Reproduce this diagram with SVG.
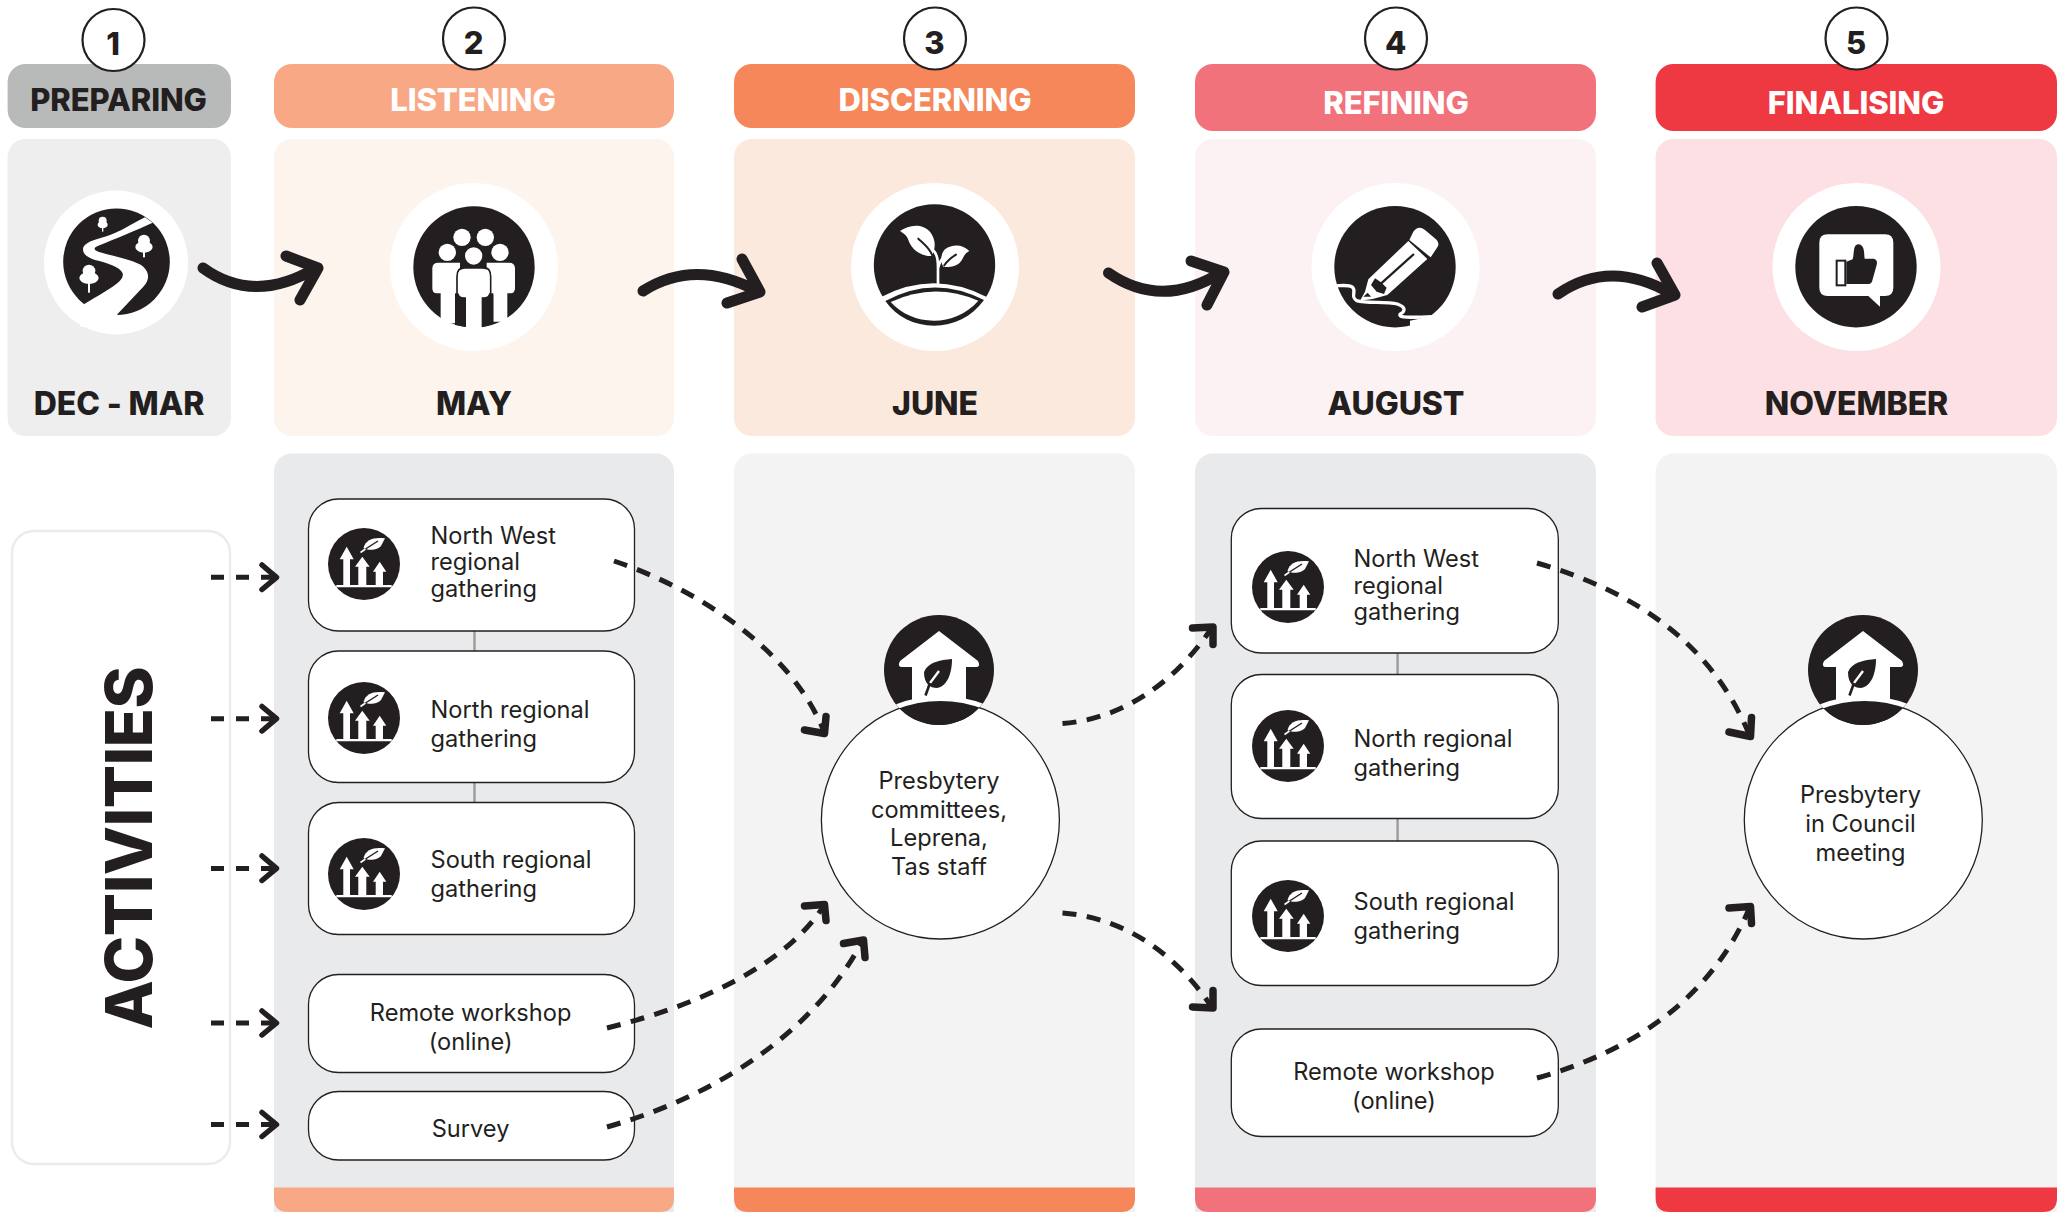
<svg xmlns="http://www.w3.org/2000/svg" width="2065" height="1212" viewBox="0 0 2065 1212">
<style>
text{font-family:"Inter","Liberation Sans",sans-serif;fill:#231f20}
.h{font-size:31px;font-weight:800;text-anchor:middle;letter-spacing:-.1px}
.mo{font-size:32px}
.w{fill:#fff}
.t{font-size:23.6px;font-weight:400}
.m{text-anchor:middle}
.node{fill:#fff;stroke:#231f20;stroke-width:1.3}
.num{fill:#fff;stroke:#231f20;stroke-width:2.2}
.k{fill:#231f20}
.wf{fill:#fff}
.dash{fill:none;stroke:#231f20;stroke-width:5;stroke-dasharray:14 10.500}
.sd{fill:none;stroke:#231f20;stroke-width:5;stroke-dasharray:13 12}
.head{fill:none;stroke:#231f20;stroke-width:7.500;stroke-linecap:round;stroke-linejoin:round}
.sh{fill:none;stroke:#231f20;stroke-width:5.500;stroke-linecap:round;stroke-linejoin:round}
.big{fill:none;stroke:#231f20;stroke-width:11;stroke-linecap:round;stroke-linejoin:round}
.link{stroke:#9a9a9a;stroke-width:2.4}
</style>
<defs>
<clipPath id="hc"><circle r="55"/></clipPath>
<g id="grow">
<circle r="36" class="k"/>
<path class="wf" d="M-17.300-17.300L-24.300-4.700H-20.700V21H-14V-4.700H-10.300ZM-1.700-7.300L-9 2.700H-5.700V21H2.300V2.700H5.700ZM15.700-2.300L9 7.700H11.700V21H19V7.700H22.300Z"/>
<path class="wf" d="M-27.700 21H27.700V23.300H-27.700Z"/>
<path class="wf" d="M21-25.700C10-27 2-25-.5-16C4-13 14-14 17-18Z"/>
<path fill="none" stroke="#fff" stroke-width="1.600" d="M-3.500-11.500L1.500-15"/>
<path fill="none" stroke="#231f20" stroke-width="1.400" d="M1.500-15L14-23"/>
</g>
<g id="house">
<circle r="55" class="k"/>
<path class="wf" d="M0-39L39-9Q42-3 37-3H27V32H-27V-3H-37Q-42-3-39-9Z"/>
<path class="k" d="M13-11C1-10-11-8-15 2C-15 14-9 18-2 18C9 16 13 2 13-11Z"/>
<path fill="none" stroke="#fff" stroke-width="2.400" d="M0 1L-9 13"/>
<path fill="none" stroke="#231f20" stroke-width="2.600" d="M-9 13L-13.500 25.500"/>
<g clip-path="url(#hc)"><path class="k" d="M-60 31H60V60H-60Z"/><circle cx="1.400" cy="150" r="121.500" fill="none" stroke="#fff" stroke-width="5"/></g>
</g>
</defs>

<g id="headers">
<g id="stage-1"><rect x="7.600" y="64" width="223.400" height="64" rx="18" fill="#b8baba"/><circle class="num" cx="113.500" cy="40" r="31"/><text x="113" y="55" class="h">1</text><text x="118.500" y="111" class="h">PREPARING</text>
<rect x="7.600" y="139" width="223.400" height="297" rx="18" fill="#eee"/><text x="119" y="415" class="h mo">DEC - MAR</text></g>
<g id="stage-2"><rect x="274" y="64" width="400" height="64" rx="18" fill="#f9a886"/><circle class="num" cx="474" cy="38.500" r="31"/><text x="473.500" y="53.500" class="h">2</text><text x="473" y="111" class="h w">LISTENING</text>
<rect x="274" y="139" width="400" height="297" rx="18" fill="#fdf4ee"/><text x="474" y="415" class="h mo">MAY</text></g>
<g id="stage-3"><rect x="734" y="64" width="401" height="64" rx="18" fill="#f6875b"/><circle class="num" cx="935" cy="38.500" r="31"/><text x="934.500" y="53.500" class="h">3</text><text x="935" y="111" class="h w">DISCERNING</text>
<rect x="734" y="139" width="401" height="297" rx="18" fill="#fce9de"/><text x="935" y="415" class="h mo">JUNE</text></g>
<g id="stage-4"><rect x="1195" y="64" width="401" height="67" rx="18" fill="#f2727c"/><circle class="num" cx="1396" cy="38.500" r="31"/><text x="1395.500" y="53.500" class="h">4</text><text x="1396" y="113.500" class="h w">REFINING</text>
<rect x="1195" y="139" width="401" height="297" rx="18" fill="#fdf2f3"/><text x="1396" y="415" class="h mo">AUGUST</text></g>
<g id="stage-5"><rect x="1655.600" y="64" width="401.400" height="67" rx="18" fill="#ef3942"/><circle class="num" cx="1856.500" cy="38.500" r="31"/><text x="1856" y="53.500" class="h">5</text><text x="1856" y="113.500" class="h w">FINALISING</text>
<rect x="1655.600" y="139" width="401.400" height="297" rx="18" fill="#fde0e3"/><text x="1856.500" y="415" class="h mo">NOVEMBER</text></g>
</g>

<g id="stage-icons">
<g id="icon-river">
<circle cx="116" cy="262.500" r="72" fill="#fff"/>
<circle cx="116.500" cy="261.700" r="53.300" class="k"/>
<g transform="translate(30 170) scale(.3333)">
<path class="wf" d="M345 142C300 165 270 185 240 195C205 207 170 212 160 232C155 250 170 262 195 270C230 278 270 290 278 310C282 330 262 345 163 402L150 470H262V433L340 350C358 330 360 310 340 290C320 272 260 262 205 245C190 240 190 233 205 227C260 205 320 180 368 158Z"/>
<circle class="wf" cx="218" cy="152" r="12"/><ellipse class="wf" cx="218" cy="164" rx="15" ry="11"/><rect class="wf" x="216" y="165" width="4" height="20"/>
<circle class="wf" cx="342" cy="212" r="18"/><ellipse class="wf" cx="342" cy="231" rx="26" ry="17"/><rect class="wf" x="339" y="235" width="6" height="27"/>
<circle class="wf" cx="177" cy="303" r="19"/><ellipse class="wf" cx="177" cy="324" rx="29" ry="18"/><rect class="wf" x="174" y="330" width="6" height="38"/>
</g>
</g>
<g id="icon-people">
<circle cx="474" cy="267" r="84" fill="#fff"/>
<circle cx="474" cy="267" r="60.700" class="k"/>
<g transform="translate(385 180) scale(.3333)">
<g class="wf"><circle cx="231" cy="172" r="26"/><circle cx="301" cy="172" r="26"/><circle cx="187" cy="217" r="26"/><circle cx="345" cy="217" r="26"/>
<path d="M142 265Q142 248 160 248H225V340H210V430H167V340H155Q142 340 142 325Z"/><path d="M390 265Q390 248 372 248H305V340H325V425H367V340H377Q390 340 390 325Z"/></g>
<path d="M216 345V290Q216 262 240 262H295Q317 262 317 290V345Q317 355 305 355" fill="none" stroke="#231f20" stroke-width="5"/>
<path class="k" d="M210 345H243V440L210 435ZM290 345H325V432L290 442Z"/>
<path class="wf" d="M220 285Q220 266 240 266H293Q313 266 313 285V335Q313 352 295 352H238Q220 352 220 335Z"/>
<circle class="k" cx="266" cy="228" r="31"/><circle class="wf" cx="266" cy="228" r="26"/>
<path class="wf" d="M243 350H290V450H243Z"/>
</g>
</g>
<g id="icon-plant">
<circle cx="935" cy="267" r="84" fill="#fff"/>
<circle cx="934.500" cy="265" r="60.700" class="k"/>
<g transform="translate(850 180) scale(.3333)">
<path class="wf" d="M150 153C175 135 215 128 240 155C258 178 258 205 245 228C215 230 185 210 175 180C170 165 160 160 150 153Z"/>
<path class="wf" d="M358 213C340 195 310 190 285 208C272 222 270 245 280 260C310 265 330 255 340 232C345 222 350 217 358 213Z"/>
<path fill="none" stroke="#fff" stroke-width="8" d="M264 312V265C264 240 262 222 247 208M264 265C268 245 278 232 292 224"/>
<path fill="none" stroke="#231f20" stroke-width="6" stroke-linecap="round" d="M205 176C222 192 240 205 246 225M318 224C305 232 290 245 283 256"/>
<path class="wf" d="M92 352Q250 268 412 352L440 420L250 470L80 420Z"/>
<path class="k" d="M106 363Q252 283 402 360C365 412 310 437 252 437C195 437 140 412 106 363Z"/>
<path class="wf" d="M122 366Q252 305 385 362C350 402 300 422 252 422C200 422 155 402 122 366Z"/>
</g>
</g>
<g id="icon-pencil">
<circle cx="1395.500" cy="267" r="84" fill="#fff"/>
<circle cx="1395" cy="266.700" r="60.700" class="k"/>
<g transform="translate(1310 180) scale(.3333)">
<path class="wf" d="M310 155Q325 135 345 150L378 178Q392 190 380 205L362 232L298 180Z"/>
<path class="wf" d="M295 183L352 237L232 345L188 357L150 362L165 335L175 298Z"/>
<path fill="none" stroke="#231f20" stroke-width="7" d="M312 222L212 312"/>
<path class="k" d="M195 295L212 306L230 323L222 342L200 335L183 315Z"/>
<path class="k" d="M160 350L173 338L183 350Z"/>
<path fill="none" stroke="#fff" stroke-width="10" d="M70 318C90 318 115 312 128 322C140 335 120 350 140 362C170 372 230 362 262 372C290 382 285 395 270 403C265 415 310 412 365 410"/>
<path class="wf" d="M300 422L365 408L420 400L400 470L300 470Z"/>
</g>
</g>
<g id="icon-thumb">
<circle cx="1856.500" cy="267" r="84" fill="#fff"/>
<circle cx="1856" cy="266.700" r="60.700" class="k"/>
<g transform="translate(1770 180) scale(.3333)">
<path class="wf" d="M173 163H345Q370 163 370 188V323Q370 348 345 348H330V380L295 348H173Q148 348 148 323V188Q148 163 173 163Z"/>
<rect x="200" y="242" width="26" height="74" fill="#fff" stroke="#231f20" stroke-width="6"/>
<path class="k" d="M229 245L248 238C252 225 250 205 256 197Q268 188 278 200C284 212 282 225 284 236H312Q324 240 320 255L306 305Q302 314 292 312H229Z"/>
</g>
</g>
</g>

<g id="lanes">
<g id="lane-2"><rect x="274" y="453.400" width="400" height="775" rx="18" fill="#e9eaec"/><path d="M274 1187.600H674V1198Q674 1212 660 1212H288Q274 1212 274 1198Z" fill="#f9a886"/></g>
<g id="lane-3"><rect x="734" y="453.400" width="401" height="775" rx="18" fill="#f3f3f3"/><path d="M734 1187.600H1135V1198Q1135 1212 1121 1212H748Q734 1212 734 1198Z" fill="#f6875b"/></g>
<g id="lane-4"><rect x="1195" y="453.400" width="401" height="775" rx="18" fill="#e9eaec"/><path d="M1195 1187.600H1596V1198Q1596 1212 1582 1212H1209Q1195 1212 1195 1198Z" fill="#f2727c"/></g>
<g id="lane-5"><rect x="1655.600" y="453.400" width="401.400" height="775" rx="18" fill="#f3f3f3"/><path d="M1655.600 1187.600H2057V1198Q2057 1212 2043 1212H1669.600Q1655.600 1212 1655.600 1198Z" fill="#ef3942"/></g>
</g>

<g id="activities-label">
<rect x="12" y="531" width="218" height="633" rx="22" fill="#fff" stroke="#ebebeb" stroke-width="2.400"/>
<text transform="translate(152 848) rotate(-90)" class="m" font-size="64" font-weight="800" letter-spacing="-.3">ACTIVITIES</text>
</g>

<g id="links">
<path class="link" d="M474.500 631V651M474.500 782V802M1397.600 653V675M1397.600 818V841"/>
</g>

<g id="n-nw"><rect class="node" x="308.500" y="499" width="326" height="132" rx="30"/><use href="#grow" x="364" y="564"/><text class="t"><tspan x="430.500" y="544">North West</tspan><tspan x="430.500" y="570">regional</tspan><tspan x="430.500" y="596.500">gathering</tspan></text></g>
<g id="n-n"><rect class="node" x="308.500" y="651" width="326" height="131.500" rx="30"/><use href="#grow" x="364" y="718"/><text class="t"><tspan x="430.500" y="718">North regional</tspan><tspan x="430.500" y="747">gathering</tspan></text></g>
<g id="n-s"><rect class="node" x="308.500" y="802.500" width="326" height="132" rx="30"/><use href="#grow" x="364" y="874"/><text class="t"><tspan x="430.500" y="868">South regional</tspan><tspan x="430.500" y="897">gathering</tspan></text></g>
<g id="n-rw"><rect class="node" x="308.500" y="974.500" width="326" height="98" rx="30"/><text class="t m"><tspan x="470.600" y="1021">Remote workshop</tspan><tspan x="470.600" y="1050">(online)</tspan></text></g>
<g id="n-sv"><rect class="node" x="308.500" y="1091.500" width="326" height="68.500" rx="30"/><text class="t m" x="470.600" y="1137">Survey</text></g>

<g id="n-pc"><circle class="node" cx="940.400" cy="820" r="119"/><use href="#house" x="939" y="670"/><text class="t m"><tspan x="939" y="789">Presbytery</tspan><tspan x="939" y="818">committees,</tspan><tspan x="939" y="846">Leprena,</tspan><tspan x="939" y="875">Tas staff</tspan></text></g>

<g id="n2-nw"><rect class="node" x="1231.300" y="508.500" width="327" height="144.500" rx="30"/><use href="#grow" x="1288" y="587"/><text class="t"><tspan x="1353.500" y="567">North West</tspan><tspan x="1353.500" y="594">regional</tspan><tspan x="1353.500" y="620">gathering</tspan></text></g>
<g id="n2-n"><rect class="node" x="1231.300" y="674.500" width="327" height="144" rx="30"/><use href="#grow" x="1288" y="746"/><text class="t"><tspan x="1353.500" y="746.500">North regional</tspan><tspan x="1353.500" y="775.500">gathering</tspan></text></g>
<g id="n2-s"><rect class="node" x="1231.300" y="841" width="327" height="144.500" rx="30"/><use href="#grow" x="1288" y="916"/><text class="t"><tspan x="1353.500" y="910">South regional</tspan><tspan x="1353.500" y="939">gathering</tspan></text></g>
<g id="n2-rw"><rect class="node" x="1231.300" y="1029" width="327" height="107.500" rx="30"/><text class="t m"><tspan x="1394" y="1080">Remote workshop</tspan><tspan x="1394" y="1109">(online)</tspan></text></g>

<g id="n-pm"><circle class="node" cx="1863.300" cy="820" r="119"/><use href="#house" x="1863" y="670"/><text class="t m"><tspan x="1860.500" y="803">Presbytery</tspan><tspan x="1860.500" y="832">in Council</tspan><tspan x="1860.500" y="861">meeting</tspan></text></g>

<g id="connectors">
<path class="big" d="M203 268Q254 305 316 268M286 256L318 268L300 300"/>
<path class="big" d="M643 291Q695 258 757 291M742 259L760 292L727 303"/>
<path class="big" d="M1108.500 273Q1162 310 1222 272M1191 261L1224 272L1207 305"/>
<path class="big" d="M1558 294Q1610 258 1672 294M1657 263L1675 295L1642 307"/>

<path class="sd" d="M211 577.300H274M211 718.700H274M211 868.400H274M211 1023H274M211 1124.500H274"/>
<path class="sh" d="M262 565L276.500 577.300L262 589.500M262 706.500L276.500 718.700L262 731M262 856L276.500 868.400L262 880.500M262 1011L276.500 1023L262 1035M262 1112.500L276.500 1124.500L262 1136.500"/>

<path class="dash" d="M614 561C700 590 790 650 823 729"/>
<path class="head" d="M826 716.500L824.500 733.500L804.500 730"/>
<path class="dash" d="M607 1028C700 1005 785 965 823 907"/>
<path class="head" d="M826 920.500L824.500 904.500L804.500 906"/>
<path class="dash" d="M607 1127C720 1095 815 1030 862 942"/>
<path class="head" d="M865 957.500L863.500 940L843.500 943.500"/>
<path class="dash" d="M1062.500 723.600C1130 718 1180 675 1211 629"/>
<path class="head" d="M1192.500 628L1213 627L1213 644.500"/>
<path class="dash" d="M1062.500 913C1130 918 1180 960 1211 1006"/>
<path class="head" d="M1213 990.500L1213 1008L1192.500 1007"/>
<path class="dash" d="M1537 563C1630 590 1710 640 1749 734"/>
<path class="head" d="M1751.500 717.500L1750.500 736.500L1729 732"/>
<path class="dash" d="M1537 1078C1630 1052 1710 1000 1749 909"/>
<path class="head" d="M1751.500 923.500L1750.500 906.500L1729 908"/>
</g>
</svg>
